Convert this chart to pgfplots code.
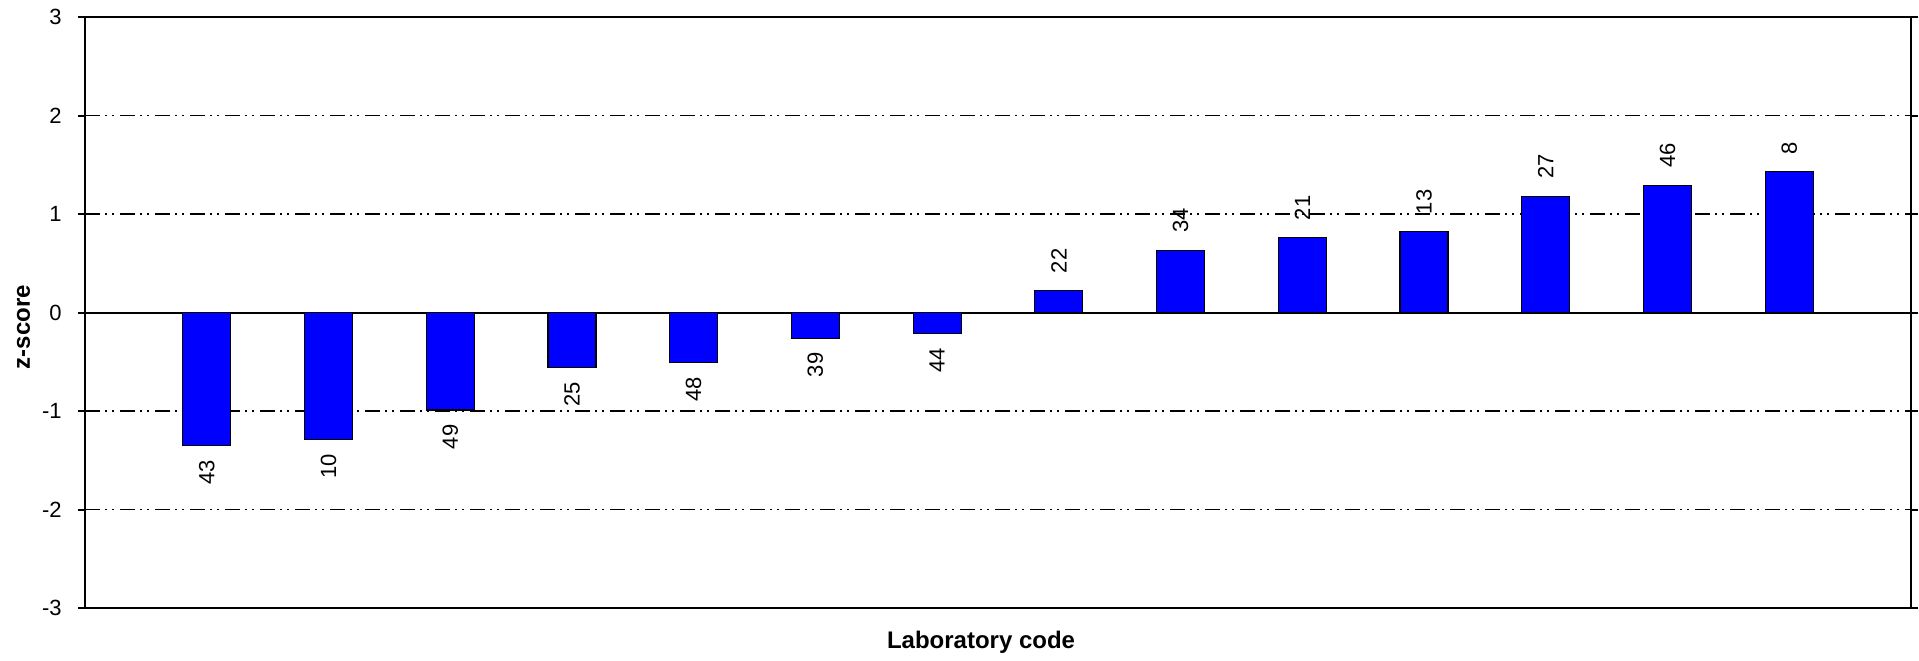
\documentclass[border=0pt]{standalone}
\usepackage{pgfplots}
\pgfplotsset{compat=1.18}
\usepackage{pgfplotstable}
\usepackage{fontspec}
\setmainfont{Liberation Sans}
\pgfplotstableread{
x y code
1 -1.35 43
2 -1.29 10
3 -0.99 49
4 -0.56 25
5 -0.51 48
6 -0.26 39
7 -0.21 44
}\negdata
\pgfplotstableread{
x y code
8 0.22 22
9 0.63 34
10 0.76 21
11 0.82 13
12 1.18 27
13 1.29 46
14 1.43 8
}\posdata
\begin{document}
\begin{tikzpicture}
\useasboundingbox (-42.5bp,-26.5bp) rectangle (917bp,304bp);
\begin{axis}[
  scale only axis, width=913bp, height=295.5bp,
  at={(0,0)}, anchor=south west,
  xmin=0, xmax=15, ymin=-3, ymax=3,
  xtick=\empty,
  ytick={-3,-2,-1,1,2,3},
  extra y ticks={0},
  extra y tick style={grid style={solid, black, line width=1bp, dash pattern=}},
  ymajorgrids,
  grid style={black, line width=0.75bp, dash pattern=on 7.5bp off 2.5bp on 1bp off 2.5bp on 1bp off 3bp},
  axis line style={line width=1bp},
  tick style={black, line width=1bp},
  tick align=outside, major tick length=3.5bp,
  yticklabel style={font=\fontsize{11bp}{13bp}\selectfont, inner sep=0pt, xshift=-8bp},
  /pgf/number format/assume math mode=true,
  xlabel={Laboratory code}, ylabel={z-score},
  every axis x label/.style={at={(axis description cs:0.4907,-0.06937)}, anchor=base, font=\bfseries\fontsize{12bp}{14bp}\selectfont},
  every axis y label/.style={at={(axis description cs:-0.03012,0.4755)}, rotate=90, anchor=base, font=\bfseries\fontsize{12bp}{14bp}\selectfont},
  point meta=explicit symbolic,
]
\addplot[ybar, bar shift=0pt, bar width=24bp, fill=blue, draw=black, line width=0.6bp,
  nodes near coords,
  nodes near coords style={rotate=90, anchor=east, inner xsep=7bp, inner ysep=0pt, font=\fontsize{11bp}{13bp}\selectfont, text=black}]
  table[x=x, y=y, meta=code]{\negdata};
\addplot[ybar, bar shift=0pt, bar width=24bp, fill=blue, draw=black, line width=0.6bp,
  nodes near coords,
  nodes near coords style={rotate=90, anchor=west, inner xsep=8.5bp, inner ysep=0pt, font=\fontsize{11bp}{13bp}\selectfont, text=black}]
  table[x=x, y=y, meta=code]{\posdata};
\end{axis}
\end{tikzpicture}
\end{document}
